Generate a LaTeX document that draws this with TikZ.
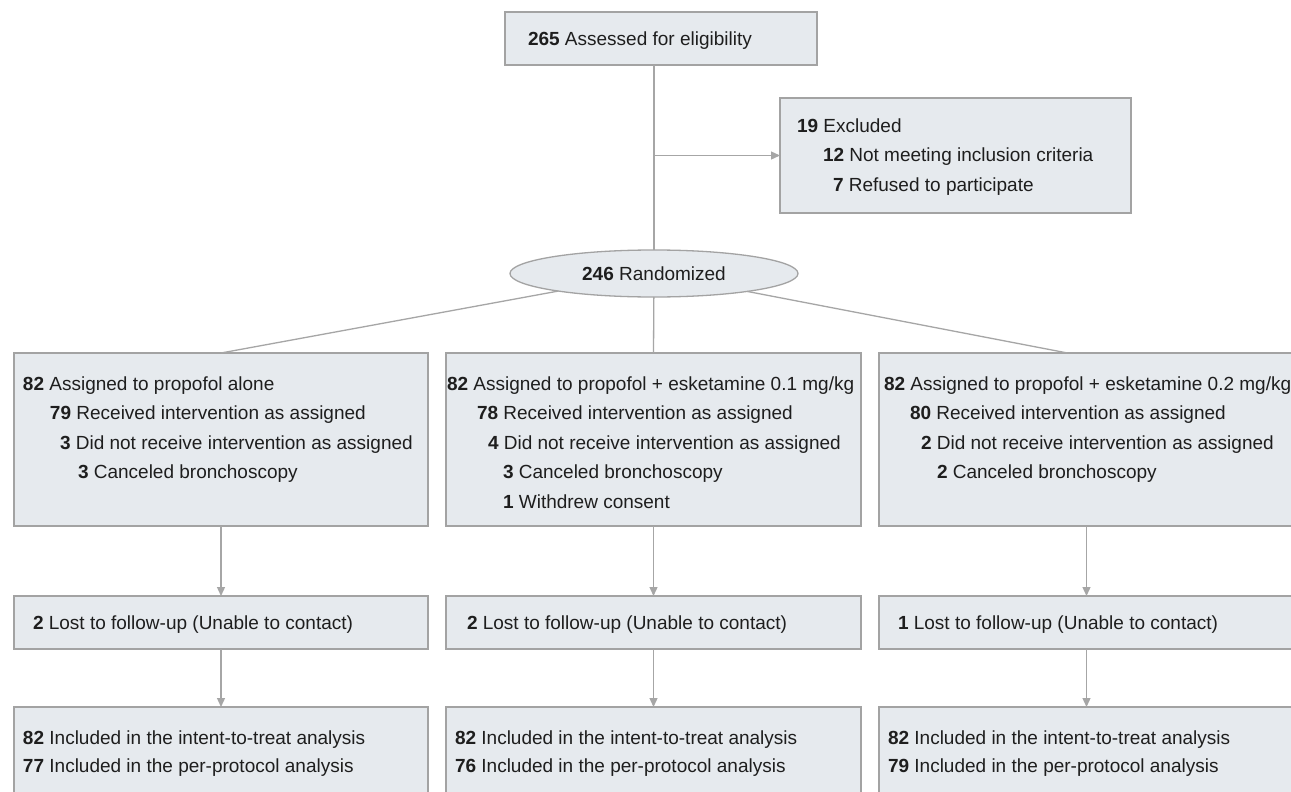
\documentclass[tikz,border=0pt]{standalone}
\usepackage{fontspec}
\setmainfont{Liberation Sans}
\usetikzlibrary{arrows.meta,shapes.geometric}

\definecolor{boxfill}{HTML}{E6EAEE}
\definecolor{boxline}{HTML}{A3A3A3}
\definecolor{linkgray}{HTML}{A6A6A6}
\definecolor{inkgray}{HTML}{1E1E1E}

\newcommand{\bnum}[1]{\textbf{#1}}
% height, width, first baseline, lines
\newcommand{\flowtext}[4]{\parbox[c][#1][t]{#2}{\rule{0pt}{#3}#4}}

\begin{document}
\begin{tikzpicture}[x=1pt, y=-1pt,
  every node/.style = {
    text = inkgray,
    font = \fontsize{19}{29.5}\selectfont,
  },
  flowbox/.style = {
    rectangle,
    draw = boxline,
    fill = boxfill,
    line width = 1.3pt,
    inner sep = 0,
    outer sep = 0,
  },
  link/.style = {draw = linkgray, line width = 1.3pt},
  arr/.style = {link, -{Triangle[width=8pt,length=9pt]}},
]
\fill[white] (0,0) rectangle (1291,792);
\useasboundingbox (0,0) rectangle (1291,792);
\clip (0,0) rectangle (1291,792);

% enrolment
\node[flowbox] (screen) at (661,38.5)
  {\flowtext{53pt}{312pt}{33pt}{\hspace*{23pt}\bnum{265} Assessed for eligibility}};
\node[flowbox] (excl) at (955.5,155.5)
  {\flowtext{115pt}{351pt}{34pt}{%
    \hspace*{17pt}\bnum{19} Excluded\\
    \hspace*{43pt}\bnum{12} Not meeting inclusion criteria\\
    \hspace*{53pt}\bnum{7} Refused to participate}};
\node[flowbox, ellipse, minimum width=288pt, minimum height=47pt] (rand)
  at (654,273.5) {\bnum{246} Randomized};

% allocation
\node[flowbox] (armA) at (221,439.5)
  {\flowtext{173pt}{414pt}{37pt}{%
    \hspace*{9pt}\bnum{82} Assigned to propofol alone\\
    \hspace*{36pt}\bnum{79} Received intervention as assigned\\
    \hspace*{46pt}\bnum{3} Did not receive intervention as assigned\\
    \hspace*{64pt}\bnum{3} Canceled bronchoscopy}};
\node[flowbox] (armB) at (653.5,439.5)
  {\flowtext{173pt}{415pt}{37pt}{%
    \hspace*{1pt}\bnum{82} Assigned to propofol + esketamine 0.1 mg/kg\\
    \hspace*{31pt}\bnum{78} Received intervention as assigned\\
    \hspace*{42pt}\bnum{4} Did not receive intervention as assigned\\
    \hspace*{57pt}\bnum{3} Canceled bronchoscopy\\
    \hspace*{57pt}\bnum{1} Withdrew consent}};
\node[flowbox] (armC) at (1086.5,439.5)
  {\flowtext{173pt}{415pt}{37pt}{%
    \hspace*{5pt}\bnum{82} Assigned to propofol + esketamine 0.2 mg/kg\\
    \hspace*{31pt}\bnum{80} Received intervention as assigned\\
    \hspace*{42pt}\bnum{2} Did not receive intervention as assigned\\
    \hspace*{58pt}\bnum{2} Canceled bronchoscopy}};

% follow-up
\node[flowbox] (lostA) at (221,622.5)
  {\flowtext{53pt}{414pt}{33pt}{\hspace*{19pt}\bnum{2} Lost to follow-up (Unable to contact)}};
\node[flowbox] (lostB) at (653.5,622.5)
  {\flowtext{53pt}{415pt}{33pt}{\hspace*{21pt}\bnum{2} Lost to follow-up (Unable to contact)}};
\node[flowbox] (lostC) at (1086.5,622.5)
  {\flowtext{53pt}{415pt}{33pt}{\hspace*{19pt}\bnum{1} Lost to follow-up (Unable to contact)}};

% analysis
\node[flowbox] (endA) at (221,762)
  {\flowtext{110pt}{414pt}{37pt}{%
    \hspace*{9pt}\bnum{82} Included in the intent-to-treat analysis\\[-1pt]
    \hspace*{9pt}\bnum{77} Included in the per-protocol analysis}};
\node[flowbox] (endB) at (653.5,762)
  {\flowtext{110pt}{415pt}{37pt}{%
    \hspace*{9pt}\bnum{82} Included in the intent-to-treat analysis\\[-1pt]
    \hspace*{9pt}\bnum{76} Included in the per-protocol analysis}};
\node[flowbox] (endC) at (1086.5,762)
  {\flowtext{110pt}{415pt}{37pt}{%
    \hspace*{9pt}\bnum{82} Included in the intent-to-treat analysis\\[-1pt]
    \hspace*{9pt}\bnum{79} Included in the per-protocol analysis}};

% connectors
\draw[link] (screen.south -| rand.north) -- (rand.north);
\draw[arr] (rand.north |- excl.west) -- (excl.west);
\draw[link] (rand) -- (armA.north);
\draw[link] (rand) -- (armB.north);
\draw[link] (rand) -- ([xshift=-19pt]armC.north);
\foreach \g in {A,B,C} {
  \draw[arr] (arm\g) -- (lost\g);
  \draw[arr] (lost\g) -- (end\g);
}
\end{tikzpicture}
\end{document}
